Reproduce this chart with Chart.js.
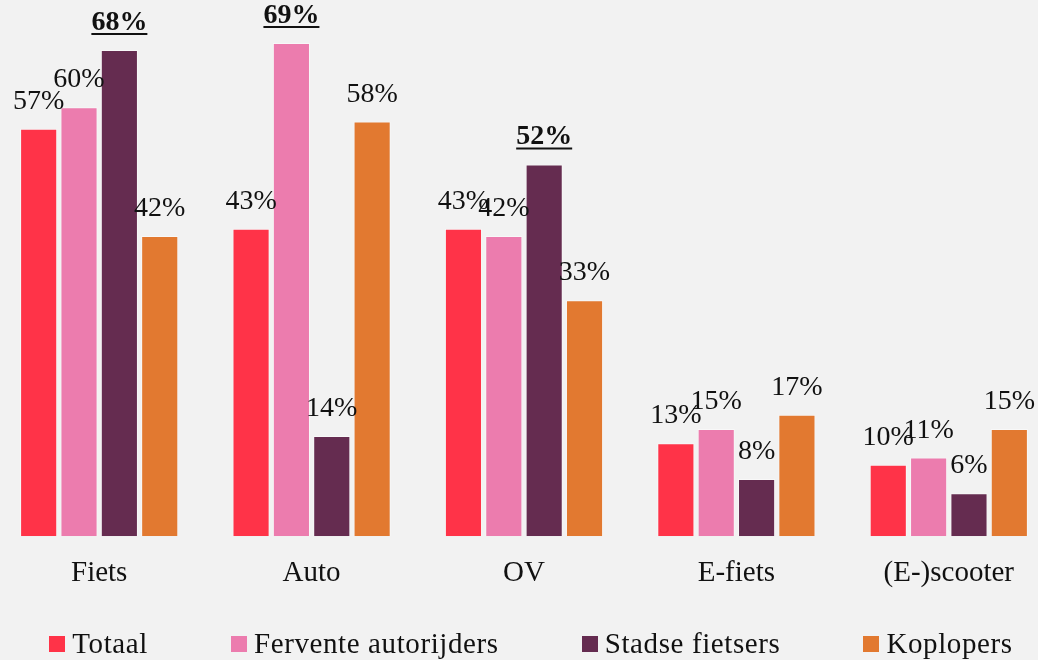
<!DOCTYPE html>
<html>
<head>
<meta charset="utf-8">
<script src="https://cdn.jsdelivr.net/npm/chart.js@4.4.1/dist/chart.umd.min.js"></script>
<style>
  html, body { margin: 0; padding: 0; background: #f2f2f2; width: 1038px; height: 660px; overflow: hidden; }
  #wrap { position: absolute; left: -7px; top: 0; width: 1062px; height: 660px; }
  #legend { position: absolute; left: 0; top: 627px; width: 1038px; display: flex; justify-content: center; gap: 83px;
            font-family: "Liberation Serif", serif; font-size: 29px; letter-spacing: 0.6px; color: #111; padding-left: 24px; box-sizing: border-box; }
  .item { display: flex; align-items: center; white-space: nowrap; }
  .sw { width: 16px; height: 16px; margin-right: 7px; display: inline-block; }
</style>
</head>
<body>
<div id="wrap"><canvas id="c"></canvas></div>
<div id="legend"></div>
<script>
const categories = ["Fiets", "Auto", "OV", "E-fiets", "(E-)scooter"];
const seriesNames = ["Totaal", "Fervente autorijders", "Stadse fietsers", "Koplopers"];
const totaal = [57, 43, 43, 13, 10];
const ferventeAutorijders = [60, 69, 42, 15, 11];
const stadseFietsers = [68, 14, 52, 8, 6];
const koplopers = [42, 58, 33, 17, 15];
const seriesColors = ["#ff3348", "#ec7cae", "#652c50", "#e27930"];
// series index whose label is highlighted (bold + underlined) per category; -1 = none
const highlightedSeries = [2, 1, 2, -1, -1];

const seriesValues = [totaal, ferventeAutorijders, stadseFietsers, koplopers];

const FONT = '"Liberation Serif", serif';

const labelPlugin = {
  id: 'barLabels',
  afterDatasetsDraw(chart) {
    const ctx = chart.ctx;
    ctx.save();
    ctx.fillStyle = '#111';
    ctx.strokeStyle = '#111';
    ctx.textAlign = 'center';
    ctx.textBaseline = 'alphabetic';
    chart.data.datasets.forEach((ds, di) => {
      const meta = chart.getDatasetMeta(di);
      meta.data.forEach((bar, i) => {
        const v = ds.data[i];
        const txt = v + '%';
        const hl = highlightedSeries[i] === di;
        ctx.font = (hl ? 'bold ' : '') + '28px ' + FONT;
        const y = bar.y - 20;
        ctx.fillText(txt, bar.x, y);
        if (hl) {
          const w = ctx.measureText(txt).width;
          ctx.lineWidth = 2;
          ctx.beginPath();
          ctx.moveTo(bar.x - w / 2, y + 4);
          ctx.lineTo(bar.x + w / 2, y + 4);
          ctx.stroke();
        }
      });
    });
    ctx.restore();
  }
};

new Chart(document.getElementById('c'), {
  type: 'bar',
  data: {
    labels: categories,
    datasets: seriesNames.map((name, k) => ({
      label: name,
      data: seriesValues[k],
      backgroundColor: seriesColors[k],
      borderColor: 'rgba(255,255,255,0.45)',
      borderWidth: 1,
      categoryPercentage: 0.76,
      barPercentage: 0.92
    }))
  },
  options: {
    responsive: true,
    maintainAspectRatio: false,
    animation: false,
    layout: { padding: { top: 0, bottom: 49, left: 0, right: 0 } },
    plugins: { legend: { display: false }, tooltip: { enabled: false } },
    scales: {
      y: { display: false, min: 0, max: 75 },
      x: {
        grid: { display: false, drawTicks: false },
        border: { display: false },
        ticks: { color: '#111', font: { family: FONT, size: 29 }, padding: 20 }
      }
    }
  },
  plugins: [labelPlugin]
});

const legend = document.getElementById('legend');
seriesNames.forEach((name, k) => {
  const it = document.createElement('div');
  it.className = 'item';
  const sw = document.createElement('span');
  sw.className = 'sw';
  sw.style.background = seriesColors[k];
  const t = document.createElement('span');
  t.textContent = name;
  it.appendChild(sw); it.appendChild(t);
  legend.appendChild(it);
});
</script>
</body>
</html>
